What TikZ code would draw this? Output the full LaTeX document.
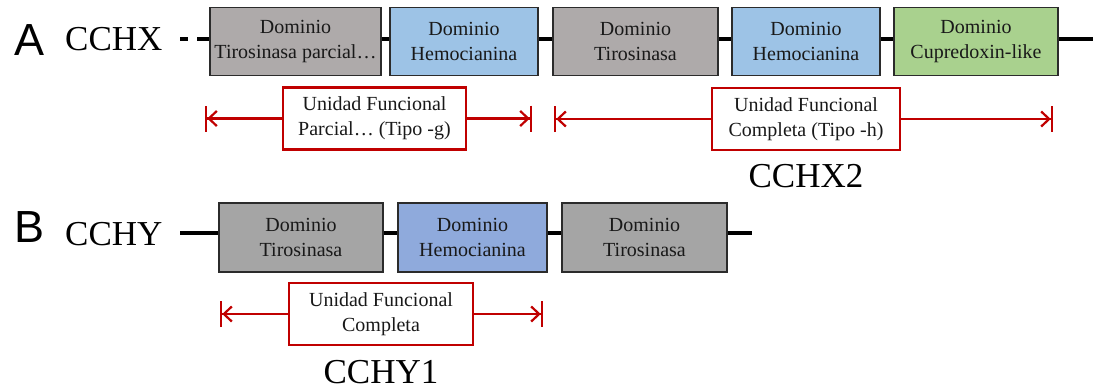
\documentclass[tikz,border=0pt]{standalone}
\usepackage{fontspec}
\setmainfont{Liberation Serif}
\newfontfamily\letrafont{Liberation Sans}
\usetikzlibrary{arrows.meta}
\definecolor{grisA}{HTML}{AEAAAA}
\definecolor{grisB}{HTML}{A5A5A5}
\definecolor{azulA}{HTML}{9DC3E6}
\definecolor{azulB}{HTML}{8FAADC}
\definecolor{verde}{HTML}{A9D18E}
\definecolor{borde}{HTML}{2B2B2B}
\definecolor{rojo}{HTML}{C00000}
\newcommand{\grande}{\fontsize{35}{35}\selectfont}
\tikzstyle{dom}=[draw=borde, line width=1.6pt, inner sep=0pt, minimum height=68pt, align=center, font=\fontsize{20}{25}\selectfont, text=black!90]
\tikzstyle{uf}=[draw=rojo, line width=2.2pt, fill=white, inner sep=0pt, minimum height=62pt, align=center, font=\fontsize{20}{25}\selectfont, text=black!90]
\tikzstyle{cota}=[rojo, line width=2.2pt, -{Straight Barb[length=8pt,width=15pt]Bar[width=26pt]}]
\tikzstyle{eje}=[line width=4pt, black]

\begin{document}
\begin{tikzpicture}[x=1pt, y=-1pt]
  \useasboundingbox (0,0) rectangle (1093,389);
  % A: CCHX
  \node[anchor=base west, inner sep=0pt, font=\letrafont\fontsize{45}{45}\selectfont] (letA) at (14,55) {A};
  \node[anchor=base west, inner sep=0pt, font=\grande] (cchx) at (65,50) {CCHX};
  \node[dom, fill=grisA, minimum width=171pt] (a1) at (295.5,41.5) {Dominio\\Tirosinasa parcial…};
  \node[dom, fill=azulA, minimum width=148pt] (a2) at (464,41.5) {Dominio\\Hemocianina};
  \node[dom, fill=grisA, minimum width=165pt] (a3) at (635.5,41.5) {Dominio\\Tirosinasa};
  \node[dom, fill=azulA, minimum width=148pt] (a4) at (806,41.5) {Dominio\\Hemocianina};
  \node[dom, fill=verde, minimum width=164pt] (a5) at (976,41.5) {Dominio\\Cupredoxin-like};
  \coordinate (iniA) at (180,38.5);
  \coordinate (finA) at (1093,38.5);
  \draw[eje, dash pattern=on 8pt off 9pt on 20pt off 0pt] (iniA) -- ([yshift=3pt]a1.west);
  \draw[eje] ([yshift=3pt]a1.east) -- ([yshift=3pt]a2.west);
  \draw[eje] ([yshift=3pt]a2.east) -- ([yshift=3pt]a3.west);
  \draw[eje] ([yshift=3pt]a3.east) -- ([yshift=3pt]a4.west);
  \draw[eje] ([yshift=3pt]a4.east) -- ([yshift=3pt]a5.west);
  \draw[eje] ([yshift=3pt]a5.east) -- (finA);
  % unidades funcionales de CCHX
  \node[uf, minimum width=183pt] (ufg) at (374.5,118.5) {Unidad Funcional\\Parcial… (Tipo -g)};
  \coordinate (ufgi) at (205,118.5);
  \coordinate (ufgd) at (532,118.5);
  \draw[cota] (ufg.west) -- (ufgi);
  \draw[cota] (ufg.east) -- (ufgd);
  \node[uf, minimum width=188pt] (ufh) at (806,119) {Unidad Funcional\\Completa (Tipo -h)};
  \coordinate (ufhi) at (554,119);
  \coordinate (ufhd) at (1053,119);
  \draw[cota] (ufh.west) -- (ufhi);
  \draw[cota] (ufh.east) -- (ufhd);
  \node[anchor=base, inner sep=0pt, font=\grande] (cchx2) at (806,187) {CCHX2};
  % B: CCHY
  \node[anchor=base west, inner sep=0pt, font=\letrafont\fontsize{45}{45}\selectfont] (letB) at (14,242) {B};
  \node[anchor=base west, inner sep=0pt, font=\grande] (cchy) at (65,245) {CCHY};
  \node[dom, fill=grisB, minimum width=164pt, minimum height=69pt] (b1) at (301,237.5) {Dominio\\Tirosinasa};
  \node[dom, fill=azulB, minimum width=149pt, minimum height=69pt] (b2) at (472.5,237.5) {Dominio\\Hemocianina};
  \node[dom, fill=grisB, minimum width=165pt, minimum height=69pt] (b3) at (644.5,237.5) {Dominio\\Tirosinasa};
  \coordinate (iniB) at (180,232.5);
  \coordinate (finB) at (752,232.5);
  \draw[eje] (iniB) -- ([yshift=5pt]b1.west);
  \draw[eje] ([yshift=5pt]b1.east) -- ([yshift=5pt]b2.west);
  \draw[eje] ([yshift=5pt]b2.east) -- ([yshift=5pt]b3.west);
  \draw[eje] ([yshift=5pt]b3.east) -- (finB);
  % unidad funcional de CCHY
  \node[uf, minimum width=184pt] (ufc) at (381,314) {Unidad Funcional\\Completa};
  \coordinate (ufci) at (220,314);
  \coordinate (ufcd) at (543,314);
  \draw[cota] (ufc.west) -- (ufci);
  \draw[cota] (ufc.east) -- (ufcd);
  \node[anchor=base, inner sep=0pt, font=\grande] (cchy1) at (381,383) {CCHY1};
\end{tikzpicture}
\end{document}
